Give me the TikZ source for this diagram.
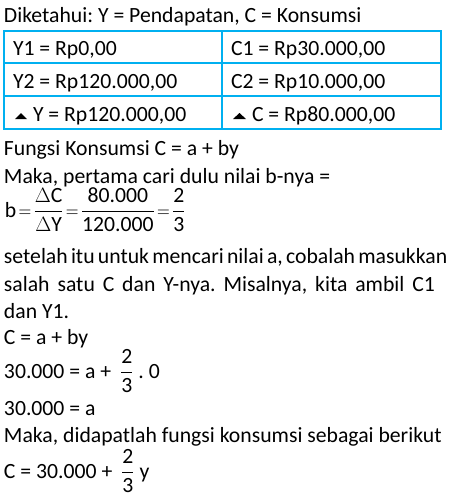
\documentclass[tikz,border=0pt]{standalone}
\usepackage{fontspec}
\setmainfont{Carlito}
\usepackage{amsmath}
\usepackage{graphicx}
\frenchspacing
\definecolor{lb}{HTML}{00B0F0}
\newcommand{\mbf}[2]{\dfrac{\mbox{#1}}{\mbox{#2}}}
\newcommand{\eqs}{\mathrel{\scalebox{0.85}[1]{$=$}}}
\begin{document}
\begin{tikzpicture}[x=1pt,y=-1pt,
  txt/.style={anchor=base west, inner sep=0pt, outer sep=0pt, font=\fontsize{21.7}{28}\selectfont},
  cell/.style={draw=lb, line width=2pt, inner sep=0pt, outer sep=0pt, anchor=north west},
  tri/.style={fill=black}]
\useasboundingbox (0,0) rectangle (450,499);
\node[txt] (title) at (4,22) {Diketahui: Y = Pendapatan, C = Konsumsi};
% table cells
\node[cell, minimum width=218pt, minimum height=32pt] (c11) at (4,31) {};
\node[cell, minimum width=219pt, minimum height=32pt] (c12) at (222,31) {};
\node[cell, minimum width=218pt, minimum height=33pt] (c21) at (4,63) {};
\node[cell, minimum width=219pt, minimum height=33pt] (c22) at (222,63) {};
\node[cell, minimum width=218pt, minimum height=33pt] (c31) at (4,96) {};
\node[cell, minimum width=219pt, minimum height=33pt] (c32) at (222,96) {};
\node[txt] (t11) at (13,55) {Y1 = Rp0,00};
\node[txt] (t12) at (231,55) {C1 = Rp30.000,00};
\node[txt] (t21) at (13,88) {Y2 = Rp120.000,00};
\node[txt] (t22) at (231,88) {C2 = Rp10.000,00};
\fill[tri] (15,119) -- (27,119) -- (21,113) -- cycle;
\node[txt] (t31) at (33,121) {Y = Rp120.000,00};
\fill[tri] (233,119) -- (246,119) -- (239.5,113) -- cycle;
\node[txt] (t32) at (252,121) {C = Rp80.000,00};
% text
\node[txt] (l1) at (4,155) {Fungsi Konsumsi C = a + by};
\node[txt] (l2) at (4,183) {Maka, pertama cari dulu nilai b-nya =};
\node[txt] (l3) at (5,217) {$\thickmuskip=2mu\mbox{b}\eqs\mbf{$\Delta$C}{$\Delta$Y}\eqs\mbf{80.000}{120.000}\eqs\mbf{2}{3}$};
\node[txt] (l4) at (4,263) {\makebox[431pt][s]{setelah itu untuk mencari nilai a, cobalah masukkan}};
\node[txt] (l5) at (4,291) {\makebox[431pt][s]{salah satu C dan Y-nya. Misalnya, kita ambil C1}};
\node[txt] (l6) at (4,318) {dan Y1.};
\node[txt] (l7) at (4,344) {C = a + by};
\node[txt] (l8) at (4,378) {30.000 = a + \hspace{4pt}$\mbf{2}{3}$ . 0};
\node[txt] (l9) at (4,415) {30.000 = a};
\node[txt] (l10) at (4,442) {Maka, didapatlah fungsi konsumsi sebagai berikut};
\node[txt] (l11) at (4,478) {C = 30.000 + \hspace{4pt}$\mbf{2}{3}$ y};
\end{tikzpicture}
\end{document}
